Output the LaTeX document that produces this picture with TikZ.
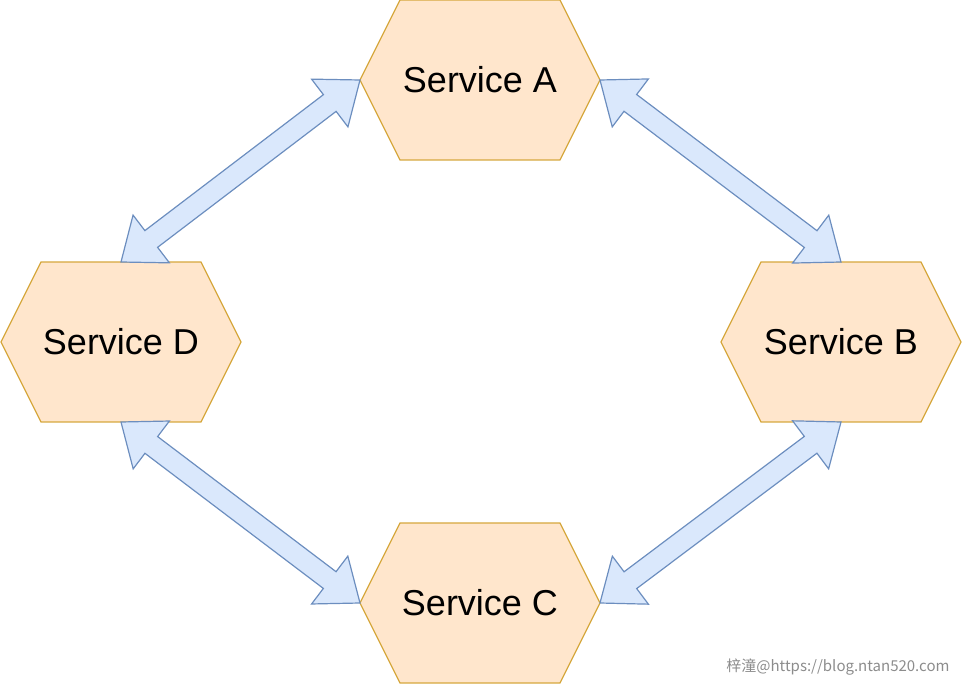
\documentclass[tikz,border=0pt]{standalone}
\usepackage{fontspec}
\setmainfont{Liberation Sans}
\newfontfamily\cjkfont{Noto Sans CJK SC}
\usetikzlibrary{calc, backgrounds}

\definecolor{hexfill}{HTML}{FFE6CC}
\definecolor{hexstroke}{HTML}{D6A83E}
\definecolor{arrowfill}{HTML}{DAE8FC}
\definecolor{arrowstroke}{HTML}{6C8EBF}

\tikzset{
	svcbox/.style={rectangle, minimum width=240pt, minimum height=160pt,
		inner sep=0pt, outer sep=0pt, font=\fontsize{36}{40}\selectfont},
	hexborder/.style={draw=hexstroke, fill=hexfill, line width=1.3pt},
	arrowbox/.style={draw=arrowstroke, fill=arrowfill, line width=1.2pt},
}

% block arrow with a head at both ends
\newcommand{\dblarrow}[2]{%
	\draw[arrowbox] (#1)
		-- ($(#1)!\headlen!(#2)!\headw!90:(#2)$)
		-- ($(#1)!\headlen!(#2)!\shaftw!90:(#2)$)
		-- ($(#2)!\headlen!(#1)!\shaftw!-90:(#1)$)
		-- ($(#2)!\headlen!(#1)!\headw!-90:(#1)$)
		-- (#2)
		-- ($(#2)!\headlen!(#1)!\headw!90:(#1)$)
		-- ($(#2)!\headlen!(#1)!\shaftw!90:(#1)$)
		-- ($(#1)!\headlen!(#2)!\shaftw!-90:(#2)$)
		-- ($(#1)!\headlen!(#2)!\headw!-90:(#2)$)
		-- cycle;}

\begin{document}
\begin{tikzpicture}[x=1pt, y=-1pt]
	\def \headlen {38pt}
	\def \headw {30pt}
	\def \shaftw {10.5pt}

	\useasboundingbox (0,0) rectangle (962,684);

	\node[svcbox] (svcA) at (480,80)  {Service A};
	\node[svcbox] (svcB) at (841,342) {Service B};
	\node[svcbox] (svcC) at (480,603) {Service C};
	\node[svcbox] (svcD) at (121,342) {Service D};

	\begin{pgfonlayer}{background}
		\foreach \s in {svcA, svcB, svcC, svcD}
			\draw[hexborder] (\s.west) -- ([xshift=40pt]\s.north west)
				-- ([xshift=-40pt]\s.north east) -- (\s.east)
				-- ([xshift=-40pt]\s.south east) -- ([xshift=40pt]\s.south west)
				-- cycle;
	\end{pgfonlayer}

	\dblarrow{svcD.north}{svcA.west}
	\dblarrow{svcA.east}{svcB.north}
	\dblarrow{svcB.south}{svcC.east}
	\dblarrow{svcC.west}{svcD.south}

	\node[font=\cjkfont\fontsize{15}{18}\selectfont, text=black!45, anchor=east]
		(mark) at (953,667) {梓潼@https://blog.ntan520.com};
\end{tikzpicture}
\end{document}
